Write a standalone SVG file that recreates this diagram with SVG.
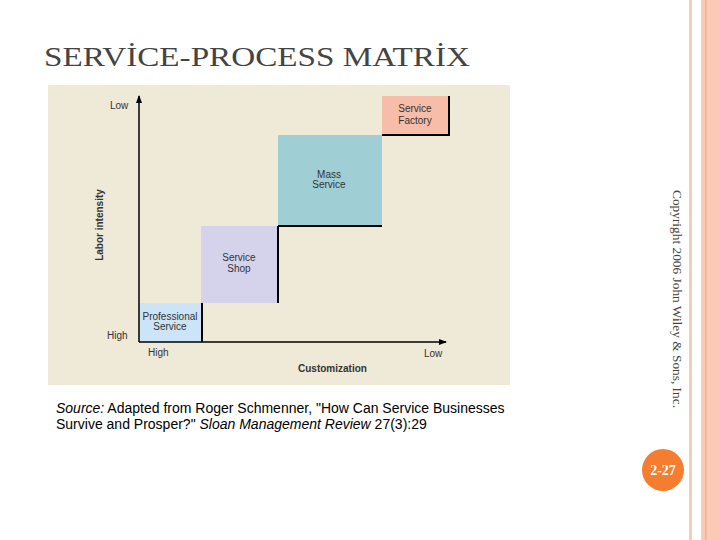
<svg xmlns="http://www.w3.org/2000/svg" width="720" height="540" viewBox="0 0 720 540">
<style>
.t{font-family:"Liberation Sans",Arial,sans-serif;font-size:10px;fill:#333;text-anchor:middle}
.ln{stroke:#000;stroke-width:2;fill:none}
</style>
<defs><marker id="ah" markerWidth="8" markerHeight="8" refX="7" refY="4" orient="auto" markerUnits="userSpaceOnUse"><path d="M0,1 L8,4 L0,7z" fill="#000"/></marker></defs>
<rect width="720" height="540" fill="#fff"/>
<rect x="689" y="0" width="3" height="540" fill="#f6cbb8"/>
<rect x="701" y="0" width="19" height="540" fill="#fbc9b5"/>
<rect x="705" y="0" width="1.5" height="540" fill="#f2ad92"/>
<text x="44" y="66" font-family="Liberation Serif,serif" font-size="28" fill="#444" textLength="426" lengthAdjust="spacingAndGlyphs">SERVİCE-PROCESS MATRİX</text>
<rect x="48" y="85" width="462" height="300" fill="#efe9d8"/>
<g id="professional"><rect x="139" y="303" width="63" height="39" fill="#cce4f7"/><text class="t" x="170" y="320">Professional</text><text class="t" x="170" y="330">Service</text></g>
<g id="shop"><rect x="201" y="226" width="77" height="77" fill="#d5d3ec"/><text class="t" x="239" y="261">Service</text><text class="t" x="239" y="272">Shop</text></g>
<g id="mass"><rect x="278" y="135" width="104" height="91" fill="#9fcfd4"/><text class="t" x="329" y="178">Mass</text><text class="t" x="329" y="188">Service</text></g>
<g id="factory"><rect x="382" y="96" width="67" height="39" fill="#f7bda8"/><text class="t" x="415" y="112">Service</text><text class="t" x="415" y="124">Factory</text></g>
<g id="connectors">
<line x1="139" y1="342" x2="139" y2="96" stroke="#000" stroke-width="1.5" marker-end="url(#ah)"/>
<line x1="139" y1="342" x2="446" y2="342" stroke="#000" stroke-width="1.5" marker-end="url(#ah)"/>
<path class="ln" d="M202,303 V342 M278,226 V303 M278,226 H382 M382,135 H449 V96"/>
</g>
<g id="labels" font-family="Liberation Sans,Arial,sans-serif" font-size="10" fill="#333">
<text x="110" y="109">Low</text><text x="107" y="339">High</text>
<text x="148" y="356">High</text><text x="424" y="357">Low</text>
<text x="298" y="372" font-weight="bold">Customization</text>
<text transform="translate(103,225) rotate(-90)" text-anchor="middle" font-weight="bold">Labor intensity</text>
</g>
<text font-family="Liberation Sans,Arial,sans-serif" font-size="14" fill="#000"><tspan x="56" y="413"><tspan font-style="italic">Source:</tspan> Adapted from Roger Schmenner, "How Can Service Businesses</tspan><tspan x="56" y="429">Survive and Prosper?" <tspan font-style="italic">Sloan Management Review</tspan> 27(3):29</tspan></text>
<text transform="translate(673,299) rotate(90)" text-anchor="middle" font-family="Liberation Serif,serif" font-size="12" fill="#444" textLength="218" lengthAdjust="spacingAndGlyphs">Copyright 2006 John Wiley &amp; Sons, Inc.</text>
<g id="page"><circle cx="663" cy="470" r="21" fill="#f47d30"/><text x="663" y="475" text-anchor="middle" font-family="Liberation Serif,serif" font-size="14" font-weight="bold" fill="#fff">2-27</text></g>
</svg>
